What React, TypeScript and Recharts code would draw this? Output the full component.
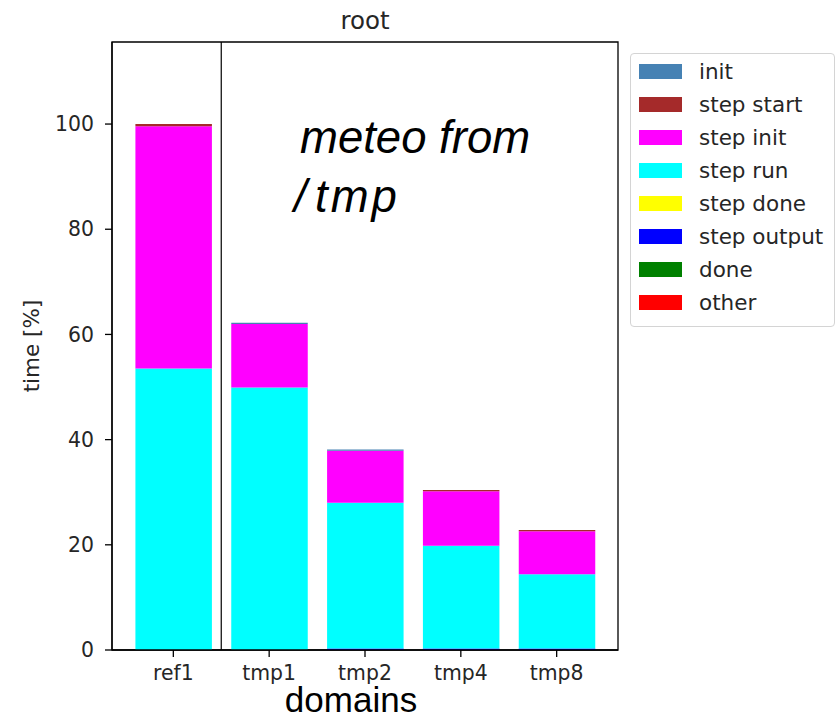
import React from 'react';
import { BarChart, Bar, XAxis, YAxis, Legend, ReferenceLine, ReferenceArea } from 'recharts';

const domains = ['ref1', 'tmp1', 'tmp2', 'tmp4', 'tmp8'];

// one array per phase, values in % of ref1 total time
const init = [0, 0.2, 0.2, 0, 0];
const stepStart = [0.4, 0, 0, 0.2, 0.2];
const stepInit = [46.1, 12.1, 9.9, 10.4, 8.2];
const stepRun = [53.5, 49.9, 27.7, 19.5, 14.1];
const stepDone = [0, 0, 0, 0, 0];
const stepOutput = [0, 0, 0.3, 0.3, 0.3];
const done = [0, 0, 0, 0, 0];
const other = [0, 0, 0, 0, 0];

const yTicks = [0, 20, 40, 60, 80, 100];

// legend order (top to bottom); bars are stacked in the reverse order
const series = [
  { key: 'init', name: 'init', color: '#4682b4', values: init },
  { key: 'stepStart', name: 'step start', color: '#a52a2a', values: stepStart },
  { key: 'stepInit', name: 'step init', color: '#ff00ff', values: stepInit },
  { key: 'stepRun', name: 'step run', color: '#00ffff', values: stepRun },
  { key: 'stepDone', name: 'step done', color: '#ffff00', values: stepDone },
  { key: 'stepOutput', name: 'step output', color: '#0000ff', values: stepOutput },
  { key: 'done', name: 'done', color: '#008000', values: done },
  { key: 'other', name: 'other', color: '#ff0000', values: other },
];

const data = domains.map((name, i) => {
  const row: Record<string, number | string> = { idx: i, name };
  series.forEach((s) => (row[s.key] = s.values[i]));
  return row;
});

const FONT = '"DejaVu Sans", sans-serif';
const SANS = '"Liberation Sans", Arial, sans-serif';

const LegendBox = () => (
  <div
    style={{
      width: 203,
      height: 271,
      border: '1px solid #d4d4d4',
      borderRadius: 4,
      background: 'rgba(255,255,255,0.8)',
      paddingTop: 1,
      boxSizing: 'content-box',
      fontFamily: FONT,
    }}
  >
    {series.map((s) => (
      <div key={s.key} style={{ height: 33, display: 'flex', alignItems: 'center' }}>
        <div style={{ width: 43, height: 15, marginLeft: 8, background: s.color }} />
        <span style={{ marginLeft: 17, fontSize: 21.5, color: '#262626', whiteSpace: 'nowrap' }}>{s.name}</span>
      </div>
    ))}
  </div>
);

export default function App() {
  return (
    <div style={{ position: 'absolute', left: 0, top: 0, width: 836, height: 717, background: '#fff', fontFamily: FONT }}>
      <BarChart
        width={836}
        height={717}
        data={data}
        margin={{ top: 42, right: 218, left: 52, bottom: 27 }}
      >
        <XAxis
          dataKey="idx"
          type="number"
          domain={[-0.64, 4.64]}
          allowDataOverflow
          ticks={[0, 1, 2, 3, 4]}
          interval={0}
          tickFormatter={(v: number) => domains[v]}
          height={40}
          tickSize={7}
          tickMargin={9}
          axisLine={{ stroke: '#000', strokeWidth: 1.3 }}
          tickLine={{ stroke: '#000', strokeWidth: 1.3 }}
          tick={{ fill: '#262626', fontSize: 20.4, fontFamily: FONT }}
        />
        <YAxis
          type="number"
          domain={[0, 115.6]}
          allowDataOverflow
          ticks={yTicks}
          interval={0}
          width={60}
          tickSize={7}
          tickMargin={11}
          axisLine={{ stroke: '#000', strokeWidth: 1.3 }}
          tickLine={{ stroke: '#000', strokeWidth: 1.3 }}
          tick={{ fill: '#262626', fontSize: 20.4, fontFamily: FONT }}
        />
        {[...series].reverse().map((s) => (
          <Bar
            key={s.key}
            dataKey={s.key}
            name={s.name}
            stackId="a"
            fill={s.color}
            barSize={76.5}
            isAnimationActive={false}
          />
        ))}
        <ReferenceLine x={0.5} stroke="#000" strokeWidth={1.2} />
        <ReferenceArea x1={-0.64} x2={4.64} y1={0} y2={115.6} fill="none" stroke="#000" strokeWidth={1.3} fillOpacity={0} />
        <Legend
          layout="vertical"
          align="center"
          verticalAlign="middle"
          content={() => <LegendBox />}
          wrapperStyle={{ left: 630, top: 53, width: 205, height: 273 }}
        />
      </BarChart>
      <svg
        width={836}
        height={717}
        style={{ position: 'absolute', left: 0, top: 0, pointerEvents: 'none' }}
      >
        <text x={365} y={29} textAnchor="middle" fontFamily={FONT} fontSize={24.5} fill="#262626">
          root
        </text>
        <text
          x={0}
          y={0}
          transform="translate(38.5,346) rotate(-90)"
          textAnchor="middle"
          fontFamily={FONT}
          fontSize={21.5}
          fill="#262626"
        >
          time [%]
        </text>
        <text x={351} y={712} textAnchor="middle" fontFamily={SANS} fontSize={35} fill="#000">
          domains
        </text>
        <text fontFamily={SANS} fontStyle="italic" fontSize={45.5} fill="#000">
          <tspan x={300} y={153}>meteo from</tspan>
          <tspan x={294} y={211.5}>/</tspan>
          <tspan x={315} y={211.5} letterSpacing={3}>tmp</tspan>
        </text>
      </svg>
    </div>
  );
}
